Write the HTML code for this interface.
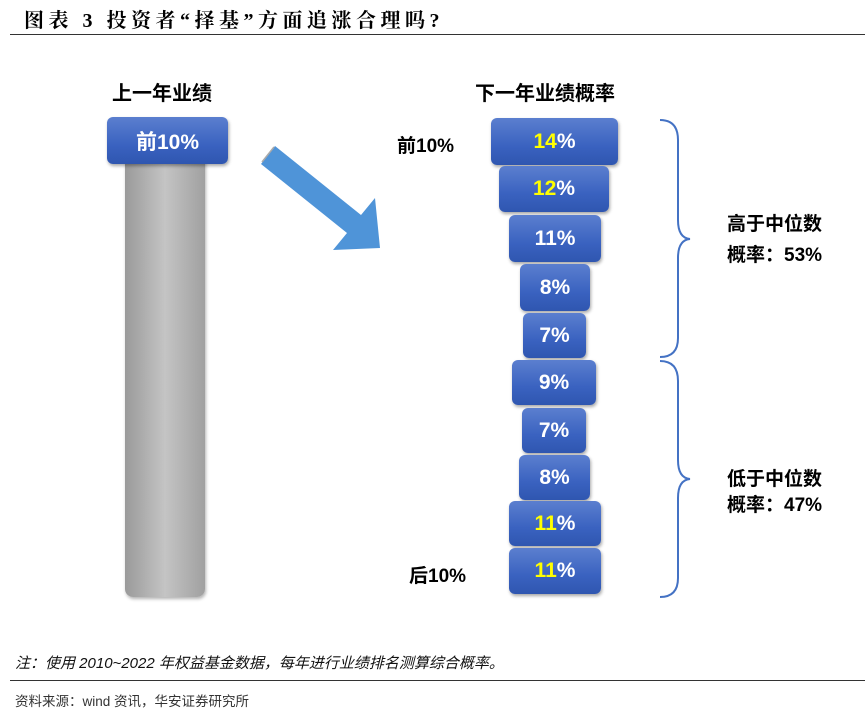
<!DOCTYPE html>
<html><head><meta charset="utf-8"><style>
body{margin:0;width:865px;height:722px;background:#fff;position:relative;overflow:hidden;font-family:"Liberation Sans","Noto Sans CJK SC",sans-serif}
.a{position:absolute}
.t{position:absolute;white-space:nowrap}
.box{position:absolute;border-radius:6px;background:linear-gradient(#5b7fcf,#3a62c0 60%,#2f56b0);box-shadow:1px 2px 3px rgba(0,0,0,.35);color:#fff;font-weight:bold;font-size:21px;text-align:center;display:flex;align-items:center;justify-content:center}
.y{color:#ffff00}
.lab{font-weight:bold;font-size:19px;color:#000}
</style></head><body>
<div class="t" style="left:24px;top:4px;font-family:'Liberation Serif','Noto Serif CJK SC',serif;font-weight:bold;font-size:20px;letter-spacing:4.5px">图表 3 投资者“择基”方面追涨合理吗?</div>
<div class="a" style="left:10px;top:34px;width:855px;height:1px;background:#333"></div>

<div class="t lab" style="left:112px;top:77px;font-size:20px">上一年业绩</div>
<div class="t lab" style="left:475px;top:77px;font-size:20px">下一年业绩概率</div>

<div class="a" style="left:125px;top:160px;width:80px;height:437px;border-radius:0 0 8px 8px;background:linear-gradient(90deg,#9a9a9a,#c4c4c4 50%,#a0a0a0);box-shadow:1px 2px 3px rgba(0,0,0,.3)"></div>
<div class="box" style="left:107px;top:117px;width:121px;height:47px">前10%</div>

<svg class="a" style="left:0;top:0" width="865" height="722">
<polygon points="275,146 361,215 375,198 380,248 333,250 347,233 261,164" fill="#4f94d8"/>
<line x1="262" y1="162" x2="274" y2="147" stroke="#aaa" stroke-width="1.5"/>
<path d="M660,120 Q678,120 678,140 L678,220 Q678,238 690,239 Q678,240 678,258 L678,338 Q678,357 660,357" fill="none" stroke="#4472c4" stroke-width="2"/>
<path d="M660,361 Q678,361 678,381 L678,460 Q678,478 690,479 Q678,480 678,498 L678,578 Q678,597 660,597" fill="none" stroke="#4472c4" stroke-width="2"/>
</svg>

<div class="t lab" style="left:397px;top:131px">前10%</div>
<div class="t lab" style="left:409px;top:561px">后10%</div>

<div class="box" style="left:491px;top:118px;width:127px;height:47px"><span class="y">14</span>%</div>
<div class="box" style="left:499px;top:166px;width:110px;height:46px"><span class="y">12</span>%</div>
<div class="box" style="left:509px;top:215px;width:92px;height:47px">11%</div>
<div class="box" style="left:520px;top:264px;width:70px;height:47px">8%</div>
<div class="box" style="left:523px;top:313px;width:63px;height:45px">7%</div>
<div class="box" style="left:512px;top:360px;width:84px;height:45px">9%</div>
<div class="box" style="left:522px;top:408px;width:64px;height:45px">7%</div>
<div class="box" style="left:519px;top:455px;width:71px;height:45px">8%</div>
<div class="box" style="left:509px;top:501px;width:92px;height:45px"><span class="y">11</span>%</div>
<div class="box" style="left:509px;top:548px;width:92px;height:46px"><span class="y">11</span>%</div>

<div class="t lab" style="left:727px;top:209px">高于中位数</div>
<div class="t lab" style="left:727px;top:240px">概率：53%</div>
<div class="t lab" style="left:727px;top:464px">低于中位数</div>
<div class="t lab" style="left:727px;top:490px">概率：47%</div>

<div class="t" style="left:15px;top:652px;font-size:15px;font-style:italic;color:#111">注：使用 2010~2022 年权益基金数据，每年进行业绩排名测算综合概率。</div>
<div class="a" style="left:10px;top:680px;width:855px;height:1px;background:#333"></div>
<div class="t" style="left:15px;top:690px;font-size:13.5px;color:#333">资料来源：wind 资讯，华安证券研究所</div>
</body></html>
